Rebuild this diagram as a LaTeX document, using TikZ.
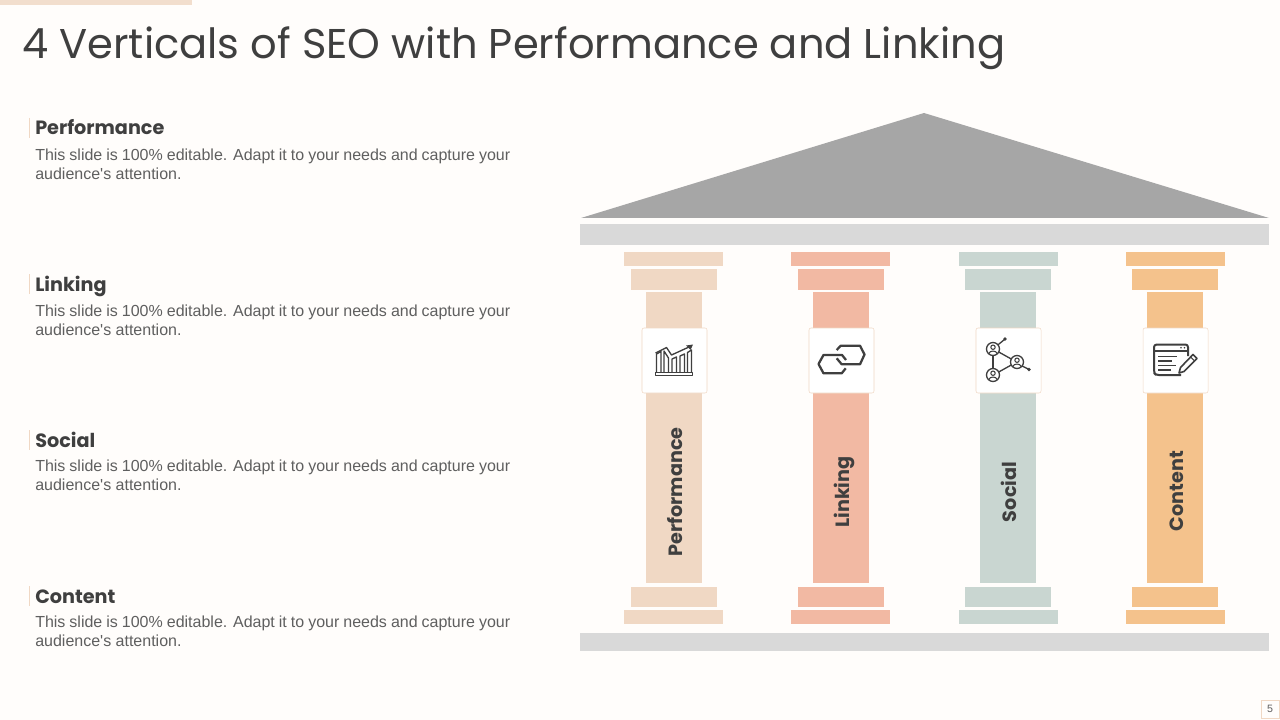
\documentclass[tikz,border=0pt]{standalone}
\usepackage{fontspec}
\setmainfont{Liberation Sans}
\newfontfamily\bodyfont{Liberation Sans}
\newfontfamily\headfont{Poppins}
\definecolor{bgc}{HTML}{FFFDFB}
\definecolor{colA}{HTML}{F0D8C4}
\definecolor{colB}{HTML}{F2B9A3}
\definecolor{colC}{HTML}{C9D6D1}
\definecolor{colD}{HTML}{F4C28C}
\definecolor{inkc}{HTML}{3F3F3F}
\definecolor{bodyc}{HTML}{5F5F5F}
\tikzset{
 x=0.75pt,y=-0.75pt,
 titletext/.style={anchor=west,inner sep=0pt,font=\headfont\fontsize{31.2}{36}\selectfont,text=inkc},
 headtext/.style={anchor=base west,inner sep=0pt,font=\headfont\bfseries\fontsize{14.4}{18}\selectfont,text=inkc},
 bodytext/.style={anchor=north west,inner sep=0pt,text width=356.25pt,align=justify,font=\bodyfont\fontsize{12}{14.1}\selectfont,text=bodyc},
 vlabel/.style={rotate=90,anchor=base,inner sep=0pt,font=\headfont\bfseries\fontsize{14.4}{18}\selectfont,text=inkc},
 iconbox/.style={draw=colA,line width=0.4pt,fill=white,rounded corners=1.5pt,minimum width=48.75pt,minimum height=48.75pt,inner sep=0pt},
 ico/.style={draw=inkc,line width=0.85pt,line join=round,fill=none},
 tick/.style={draw=colA,line width=0.6pt},
}
\newcommand{\pillar}[3]{%
 \fill[#3] (#1-49.5,252) rectangle (#1+49.5,266);
 \fill[#3] (#2-43,269) rectangle (#2+43,290);
 \fill[#3] (#2-28,292) rectangle (#2+28,583);
 \fill[#3] (#2-43,587) rectangle (#2+43,607);
 \fill[#3] (#1-49.5,610) rectangle (#1+49.5,624);
}
\newcommand{\person}[2]{%
 \draw[ico,line width=1pt] (#1,#2) circle (6.5);
 \draw[ico,line width=0.8pt] (#1,#2-1.8) circle (2.2);
 \draw[ico,line width=0.8pt] (#1-4.2,#2+4.6) .. controls (#1-3.5,#2+1.2) and (#1+3.5,#2+1.2) .. (#1+4.2,#2+4.6);
}
\newcommand{\bodystr}{This slide is 100\% editable. Adapt it to your needs and capture your audience's attention.}
\begin{document}
\begin{tikzpicture}
\useasboundingbox (0,0) rectangle (1280,720);
\fill[bgc] (0,0) rectangle (1280,720);
\fill[colA!85!white] (0,0) rectangle (192,5);
\node[titletext] (title) at (22,48) {4 Verticals of SEO with Performance and Linking};
% roof and beams
\fill[black!35] (581,218) -- (924,113) -- (1269,218) -- cycle;
\fill[black!15] (580,224) rectangle (1269,245);
\fill[black!15] (580,633) rectangle (1269,651);
% pillars
\pillar{673.5}{674}{colA}
\pillar{840.5}{841}{colB}
\pillar{1008.5}{1008}{colC}
\pillar{1175.5}{1175}{colD}
\node[iconbox] (boxA) at (674.5,360.5) {};
\node[iconbox] (boxB) at (841.5,360.5) {};
\node[iconbox] (boxC) at (1008.5,360.5) {};
\node[iconbox] (boxD) at (1175.5,360.5) {};
\node[vlabel] (vA) at (682,492) {Performance};
\node[vlabel] (vB) at (849,492) {Linking};
\node[vlabel] (vC) at (1016.5,492) {Social};
\node[vlabel] (vD) at (1183,491) {Content};
% chart icon
\draw[ico,line width=1pt] (655.5,372.5) rectangle (692.5,375.5);
\foreach \xa/\xb/\ya/\yb in {656.5/661/354/351.5, 664/668.5/351/358, 672/676.5/359/357, 680/684.5/356/354, 687.5/691.5/352.5/350}{
 \draw[ico,line width=1pt] (\xa,372) -- (\xa,\ya) -- (\xb,\yb) -- (\xb,372);}
\draw[ico,line width=1pt] (655.5,353) -- (666.5,347.5) -- (671.5,355) -- (689,347);
\fill[inkc] (693,344.5) -- (686,345.5) -- (690.5,350) -- cycle;
% link icon
\draw[ico,line width=1.7pt] (846,360) -- (842,355) -- (823.5,355) -- (818.5,364) -- (823.5,373.3) -- (841.7,373.3) -- (845.7,368.3);
\draw[ico,line width=1.7pt] (836.7,350) -- (840.7,345.7) -- (860,345.7) -- (864.5,354.5) -- (860,364.3) -- (841.7,364.3) -- (836.7,358.3);
% network icon
\person{993}{349}
\person{1017}{362}
\person{993}{375}
\draw[ico,line width=1pt] (993,355.5) -- (993,368.5);
\draw[ico,line width=1pt] (998.7,352) -- (1011.3,359);
\draw[ico,line width=1pt] (998.7,372) -- (1011.3,365);
\draw[ico,line width=1pt] (998,344.8) -- (1004.5,339.5);
\fill[inkc] (1005,339) circle (1.8);
\draw[ico,line width=1pt] (1022,366) -- (1029,369.5);
\fill[inkc] (1029,369.5) circle (1.8);
% content icon
\draw[ico,line width=1.5pt,rounded corners=2pt] (1181,375) -- (1156,375) -- (1154,373) -- (1154,344.5) -- (1188,344.5) -- (1188,356);
\draw[ico,line width=1.2pt] (1154,351) -- (1188,351);
\fill[inkc] (1181,347.7) circle (0.9) (1184.5,347.7) circle (0.9);
\draw[ico,line width=1.2pt] (1158,356.5) -- (1177,356.5) (1158,361) -- (1172,361) (1158,365.5) -- (1176,365.5) (1158,370) -- (1171,370);
\draw[ico,line width=1.2pt] (1193,354.5) -- (1197,358.5) -- (1184,371.5) -- (1179,373) -- (1180.5,367.5) -- cycle;
\draw[ico,line width=0.8pt] (1190.5,357) -- (1194.5,361);
% left column
\draw[tick] (29,118) -- (29,138);
\node[headtext] (hA) at (35,135) {Performance};
\node[bodytext] (tA) at (35,148.5) {\bodystr};
\draw[tick] (29,274) -- (29,294);
\node[headtext] (hB) at (35,291) {Linking};
\node[bodytext] (tB) at (35,304.5) {\bodystr};
\draw[tick] (29,430) -- (29,450);
\node[headtext] (hC) at (35,447) {Social};
\node[bodytext] (tC) at (35,459.5) {\bodystr};
\draw[tick] (29,586) -- (29,606);
\node[headtext] (hD) at (35,603) {Content};
\node[bodytext] (tD) at (35,615.5) {\bodystr};
% page number
\node[draw=colA,line width=0.6pt,fill=bgc,minimum width=13.5pt,minimum height=13.5pt,inner sep=0pt,text=bodyc,font=\fontsize{8}{9}\selectfont] (page) at (1270,709) {5};
\end{tikzpicture}
\end{document}
